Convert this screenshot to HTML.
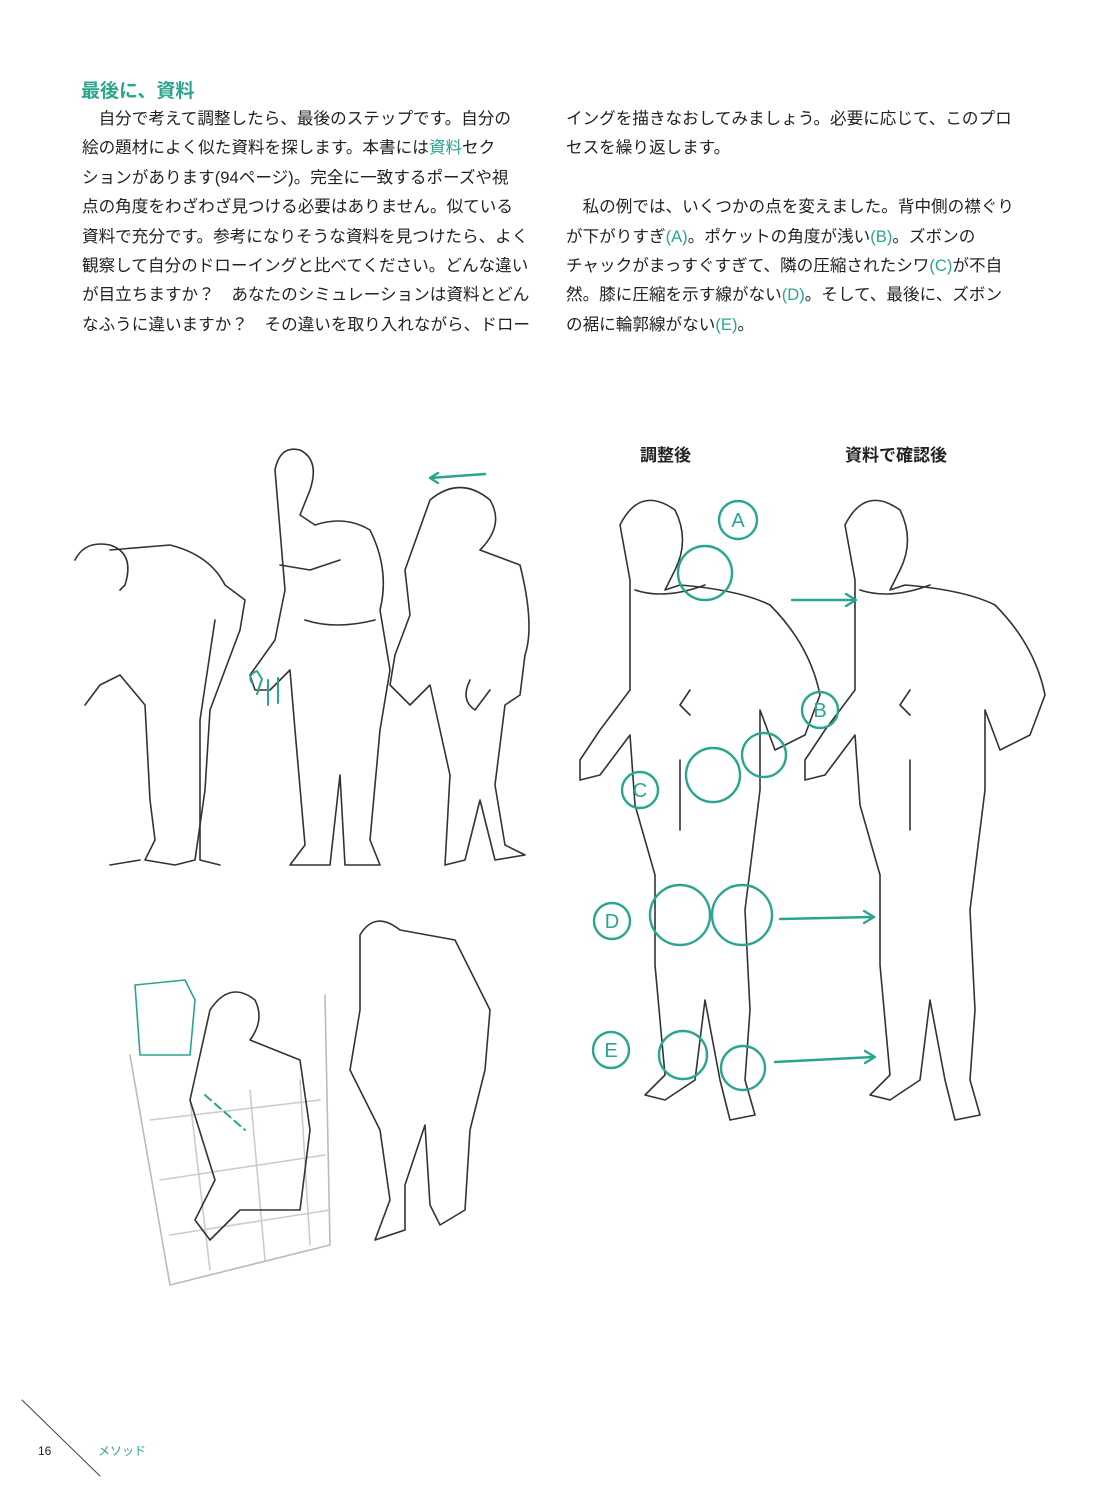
<!DOCTYPE html>
<html><head><meta charset="utf-8">
<style>
body{margin:0;background:#fff;}
#p{position:relative;width:1109px;height:1500px;overflow:hidden;font-family:"Liberation Sans","Noto Sans CJK JP",sans-serif;color:#222;}
.l{position:absolute;font-size:16.6px;line-height:20px;white-space:nowrap;}
.t{color:#2aa58f;}
h1{position:absolute;left:81px;top:76px;margin:0;font-size:19px;color:#2aa58f;font-weight:bold;}
.hd{position:absolute;font-size:17px;font-weight:bold;color:#222;}
</style></head><body><div id="p">
<h1>最後に、資料</h1>
<div class="l" style="left:82px;top:109px">　自分で考えて調整したら、最後のステップです。自分の</div>
<div class="l" style="left:82px;top:138px">絵の題材によく似た資料を探します。本書には<span class="t">資料</span>セク</div>
<div class="l" style="left:82px;top:168px">ションがあります(94ページ)。完全に一致するポーズや視</div>
<div class="l" style="left:82px;top:197px">点の角度をわざわざ見つける必要はありません。似ている</div>
<div class="l" style="left:82px;top:227px">資料で充分です。参考になりそうな資料を見つけたら、よく</div>
<div class="l" style="left:82px;top:256px">観察して自分のドローイングと比べてください。どんな違い</div>
<div class="l" style="left:82px;top:285px">が目立ちますか？　あなたのシミュレーションは資料とどん</div>
<div class="l" style="left:82px;top:315px">なふうに違いますか？　その違いを取り入れながら、ドロー</div>
<div class="l" style="left:566px;top:109px">イングを描きなおしてみましょう。必要に応じて、このプロ</div>
<div class="l" style="left:566px;top:138px">セスを繰り返します。</div>
<div class="l" style="left:566px;top:197px">　私の例では、いくつかの点を変えました。背中側の襟ぐり</div>
<div class="l" style="left:566px;top:227px">が下がりすぎ<span class="t">(A)</span>。ポケットの角度が浅い<span class="t">(B)</span>。ズボンの</div>
<div class="l" style="left:566px;top:256px">チャックがまっすぐすぎて、隣の圧縮されたシワ<span class="t">(C)</span>が不自</div>
<div class="l" style="left:566px;top:285px">然。膝に圧縮を示す線がない<span class="t">(D)</span>。そして、最後に、ズボン</div>
<div class="l" style="left:566px;top:315px">の裾に輪郭線がない<span class="t">(E)</span>。</div>
<div class="hd" style="left:640px;top:441px">調整後</div>
<div class="hd" style="left:845px;top:441px">資料で確認後</div>
<svg width="1109" height="1500" style="position:absolute;left:0;top:0" fill="none" stroke="#333" stroke-width="1.6" stroke-linejoin="round" stroke-linecap="round">
<!-- figure 1 bent -->
<path d="M75 560 q10-20 35-15 q25 8 15 40 l-5 5 M110 550 l60-5 q40 10 55 40 l20 15 l-5 30 l-30 80 l-5 80 l-10 70 l-20 5 l-30-5 l10-20 l-5-40 l-5-95 l-25-30 l-20 10 l-15 20"/>
<path d="M140 860 l-30 5 M215 620 l-15 100 l0 140 l20 5"/>
<!-- figure 2 standing -->
<path d="M275 470 q5-25 25-20 q20 10 10 40 l-10 25 l15 10 q30-10 55 5 q20 40 10 80 l10 60 l-10 60 l-10 110 l10 25 l-35 0 l-5-90 l-10 90 l-40 0 l15-20 l-10-115 l-5-60 l-20 20 l-15 0 l-5-15 l25-35 l10-50 z"/>
<path d="M280 565 l30 5 l30-10 M305 620 q30 10 70 0"/>
<!-- figure 3 bent forward -->
<path d="M430 500 q30-25 60 0 q15 25-10 50 l40 15 q15 60 5 90 l-5 40 l-15 10 l-10 80 l10 60 l20 10 l-30 5 l-15-60 l-15 60 l-20 5 l5-90 l-20-90 l-20 20 l-20-20 l5-30 l15-40 l-5-45 z"/>
<path d="M470 680 q-10 20 5 30 l15-20"/>
<!-- bottom left crouch -->
<path d="M135 985 l50-5 l10 20 l-5 55 l-50 0 z" stroke="#2aa58f"/>
<path d="M130 1055 l40 230 l160-40 l-5-250" stroke="#bbb"/>
<path d="M150 1120 l170-20 M160 1180 l165-25 M170 1235 l160-25 M190 1100 l20 170 M250 1090 l15 170 M300 1080 l10 165" stroke="#ccc"/>
<path d="M210 1010 q20-30 45-10 q10 20-5 40 l50 20 l10 70 l-10 80 l-60 0 l-30 30 l-15-20 l20-40 l-25-80 z"/>
<path d="M205 1095 l40 35" stroke="#2aa58f" stroke-dasharray="8 5" stroke-width="2"/>
<path d="M360 935 q15-25 40-5 l55 10 l35 70 l-5 60 l-15 60 l-5 80 l-25 15 l-10-20 l-5-80 l-20 60 l0 45 l-30 10 l15-40 l-10-70 l-30-60 l10-60 z"/>
<!-- adjusted figure -->
<path d="M620 525 q20-40 55-15 q15 30 0 60 l-10 20 l15-5 q60 5 90 20 q40 40 50 90 l-15 40 l-30 15 l-15-40 l0 80 l-15 120 l5 100 l-5 70 l10 35 l-25 5 l-10-40 l-15-80 l-10 80 l-30 20 l-20-5 l20-20 l-10-110 l0-90 l-20-70 l-5-70 l-30 40 l-20 5 l0-20 l20-30 l30-40 l0-110 z"/>
<path d="M635 590 q30 10 70-5 M680 760 l0 70 M690 690 l-10 15 l10 10"/>
<!-- reference figure -->
<path d="M845 525 q20-40 55-15 q15 30 0 60 l-10 20 l15-5 q60 5 90 20 q40 40 50 90 l-15 40 l-30 15 l-15-40 l0 80 l-15 120 l5 100 l-5 70 l10 35 l-25 5 l-10-40 l-15-80 l-10 80 l-30 20 l-20-5 l20-20 l-10-110 l0-90 l-20-70 l-5-70 l-30 40 l-20 5 l0-20 l20-30 l30-40 l0-110 z"/>
<path d="M860 590 q30 10 70-5 M910 760 l0 70 M910 690 l-10 15 l10 10"/>
<g stroke="#2aa58f" stroke-width="2.4">
<path d="M430 478 l55 -4 M430 478 l8 -5 M430 478 l8 5"/>
<path d="M252 683 q-5-8 5-12 l5 8 l-5 15 M268 680 l0 25 M278 678 l0 25" stroke-width="2"/>
<circle cx="705" cy="573" r="27"/><circle cx="738" cy="520" r="19"/>
<circle cx="764" cy="755" r="22"/><circle cx="820" cy="710" r="18"/>
<circle cx="713" cy="775" r="27"/><circle cx="640" cy="790" r="18"/>
<circle cx="680" cy="915" r="30"/><circle cx="742" cy="915" r="30"/><circle cx="612" cy="921" r="18"/>
<circle cx="683" cy="1055" r="24"/><circle cx="743" cy="1068" r="22"/><circle cx="611" cy="1050" r="18"/>
<path d="M792 600 l62 0 M846 594 l10 6 l-10 6"/>
<path d="M780 919 l92 -2 M864 911 l10 6 l-10 6"/>
<path d="M775 1062 l98 -5 M865 1051 l10 6 l-10 6"/>
</g>
<g fill="#2aa58f" stroke="none" font-family="Liberation Sans,sans-serif" font-size="20" text-anchor="middle">
<text x="738" y="527">A</text><text x="820" y="717">B</text><text x="640" y="797">C</text><text x="612" y="928">D</text><text x="611" y="1057">E</text>
</g>
<path d="M22 1400 l78 76" stroke="#444" stroke-width="1"/>
</svg>
<div class="l" style="left:38px;top:1441px;font-size:12px">16</div>
<div class="l t" style="left:98px;top:1441px;font-size:12px">メソッド</div>
</div></body></html>
